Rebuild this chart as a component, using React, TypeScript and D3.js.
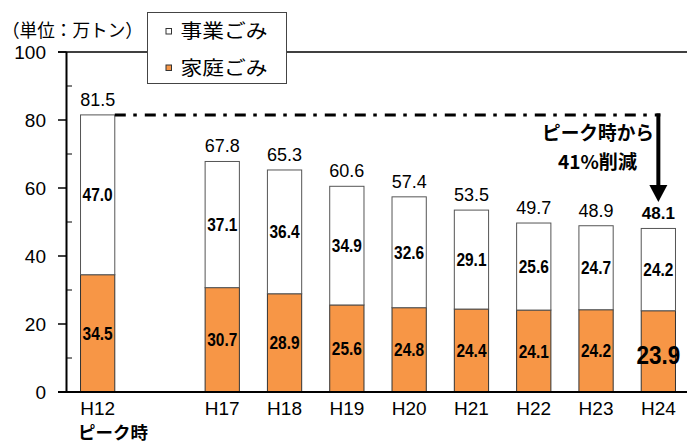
import React from "react";
import * as d3 from "d3";

const categories = ["H12", "gap", "H17", "H18", "H19", "H20", "H21", "H22", "H23", "H24"];
const barCats = ["H12", "H17", "H18", "H19", "H20", "H21", "H22", "H23", "H24"];
const household = [34.5, 30.7, 28.9, 25.6, 24.8, 24.4, 24.1, 24.2, 23.9];
const business = [47.0, 37.1, 36.4, 34.9, 32.6, 29.1, 25.6, 24.7, 24.2];
const totals = [81.5, 67.8, 65.3, 60.6, 57.4, 53.5, 49.7, 48.9, 48.1];
const yTicks = [0, 20, 40, 60, 80, 100];
const yMinor = [10, 30, 50, 70, 90];

const W = 687;
const H = 443;
const NUM = "'Liberation Sans', Arial, sans-serif";
const JP = "'Noto Sans CJK JP', sans-serif";
const ORANGE = "#F79646";

export default function App() {
  const y = d3.scaleLinear().domain([0, 100]).range([392, 52]);
  const x = d3
    .scaleBand<string>()
    .domain(categories)
    .range([66.5, 689.5])
    .paddingInner(0.45)
    .paddingOuter(0.225);
  const bw = x.bandwidth();
  const cx = (c: string) => (x(c) as number) + bw / 2;
  const last = barCats.length - 1;
  const peakY = y(totals[0]);
  const arrowX = cx(barCats[last]);

  const segLabel = (key: string, px: number, py: number, txt: string, big: boolean) => (
    <g key={key} transform={`translate(${px},${py}) scale(${big ? 0.9 : 0.86},1)`}>
      <text
        x={0}
        y={0}
        dy="0.36em"
        textAnchor="middle"
        fontFamily={NUM}
        fontSize={big ? 25 : 18}
        fontWeight="bold"
        fill="#000"
      >
        {txt}
      </text>
    </g>
  );

  return (
    <svg width={W} height={H} style={{ position: "absolute", left: 0, top: 0, background: "#fff" }}>
      {/* top line */}
      <line x1={58} x2={W} y1={y(100)} y2={y(100)} stroke="#000" strokeWidth={1.5} />
      {/* bars */}
      {barCats.map((c, i) => (
        <g key={c}>
          <rect
            x={x(c)}
            y={y(household[i])}
            width={bw}
            height={y(0) - y(household[i])}
            fill={ORANGE}
            stroke="#333"
            strokeWidth={1}
          />
          <rect
            x={x(c)}
            y={y(household[i] + business[i])}
            width={bw}
            height={y(household[i]) - y(household[i] + business[i])}
            fill="#fff"
            stroke="#555"
            strokeWidth={1}
          />
        </g>
      ))}
      {/* axes */}
      <line x1={66.5} x2={66.5} y1={y(100)} y2={y(0)} stroke="#000" strokeWidth={2} />
      <line x1={58} x2={W} y1={y(0)} y2={y(0)} stroke="#000" strokeWidth={2} />
      {yTicks.map((t) => (
        <g key={t}>
          <line x1={58} x2={66.5} y1={y(t)} y2={y(t)} stroke="#000" strokeWidth={1.5} />
          <text x={46} y={y(t)} dy="0.36em" textAnchor="end" fontFamily={NUM} fontSize={19} fill="#000">
            {t}
          </text>
        </g>
      ))}
      {yMinor.map((t) => (
        <line key={t} x1={66.5} x2={72} y1={y(t)} y2={y(t)} stroke="#000" strokeWidth={1} />
      ))}
      {/* x labels */}
      {barCats.map((c) => (
        <text key={c} x={cx(c)} y={415} textAnchor="middle" fontFamily={NUM} fontSize={19} fill="#000">
          {c}
        </text>
      ))}
      <text
        x={78}
        y={439}
        fontFamily={JP}
        fontSize={17}
        fontWeight="bold"
        textLength={70}
        lengthAdjust="spacingAndGlyphs"
        fill="#000"
      >
        ピーク時
      </text>
      {/* segment labels */}
      {barCats.map((c, i) => (
        <g key={"l" + c}>
          {segLabel(
            "b" + c,
            cx(c),
            (y(household[i]) + y(household[i] + business[i])) / 2,
            business[i].toFixed(1),
            false
          )}
          {segLabel(
            "h" + c,
            cx(c),
            (y(0) + y(household[i])) / 2 + (i === last ? 4 : 0),
            household[i].toFixed(1),
            i === last
          )}
          <text
            x={cx(c)}
            y={y(totals[i]) - 9}
            textAnchor="middle"
            fontFamily={NUM}
            fontSize={i === last ? 17 : 18}
            fontWeight={i === last ? "bold" : "normal"}
            fill="#000"
          >
            {totals[i].toFixed(1)}
          </text>
        </g>
      ))}
      {/* peak dash-dot line */}
      <line
        x1={(x("H12") as number) + bw}
        x2={arrowX + 2}
        y1={peakY}
        y2={peakY}
        stroke="#000"
        strokeWidth={3}
        strokeDasharray="11 7.5 3.5 8"
      />
      {/* arrow */}
      <line x1={arrowX} x2={arrowX} y1={peakY - 1.5} y2={188} stroke="#000" strokeWidth={4} />
      <path d={`M${arrowX - 9},185 L${arrowX + 9},185 L${arrowX},202 Z`} fill="#000" />
      <text
        x={542}
        y={133}
        dy="0.36em"
        fontFamily={JP}
        fontSize={19}
        fontWeight="bold"
        textLength={112}
        lengthAdjust="spacingAndGlyphs"
        fill="#000"
      >
        ピーク時から
      </text>
      <text
        x={558}
        y={162}
        dy="0.36em"
        fontFamily={JP}
        fontSize={19}
        fontWeight="bold"
        textLength={79}
        lengthAdjust="spacingAndGlyphs"
        fill="#000"
      >
        41%削減
      </text>
      {/* unit */}
      <text
        x={2}
        y={31}
        dy="0.36em"
        fontFamily={JP}
        fontSize={18}
        textLength={141}
        lengthAdjust="spacingAndGlyphs"
        fill="#000"
      >
        （単位：万トン）
      </text>
      {/* legend */}
      <rect x={147.5} y={12.5} width={139} height={71} fill="#fff" stroke="#444" strokeWidth={1} />
      <rect x={166} y={28.5} width={5.5} height={5.5} fill="#fff" stroke="#333" strokeWidth={1} />
      <text
        x={180.5}
        y={31.5}
        dy="0.36em"
        fontFamily={JP}
        fontSize={19}
        textLength={87}
        lengthAdjust="spacingAndGlyphs"
        fill="#000"
      >
        事業ごみ
      </text>
      <rect x={166} y={65} width={5.5} height={5.5} fill={ORANGE} stroke="#333" strokeWidth={1} />
      <text
        x={180.5}
        y={68}
        dy="0.36em"
        fontFamily={JP}
        fontSize={19}
        textLength={87}
        lengthAdjust="spacingAndGlyphs"
        fill="#000"
      >
        家庭ごみ
      </text>
    </svg>
  );
}
